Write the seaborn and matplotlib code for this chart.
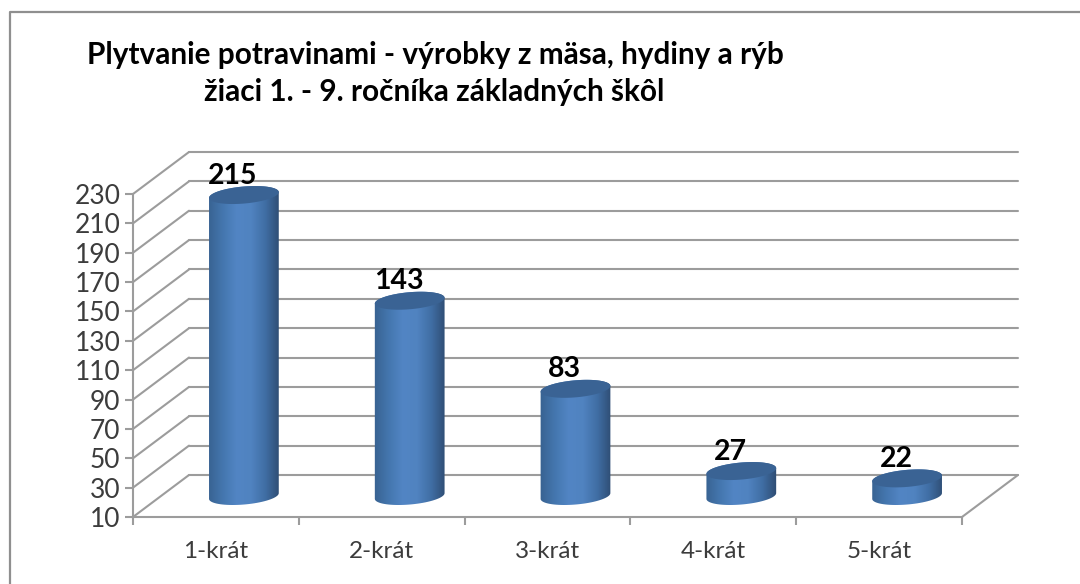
import numpy as np
import pandas as pd
import seaborn as sns
from matplotlib import pyplot as plt
from matplotlib.colors import LinearSegmentedColormap
from matplotlib.lines import Line2D
from matplotlib.patches import PathPatch, Polygon
from matplotlib.path import Path

categories = ["1-krát", "2-krát", "3-krát", "4-krát", "5-krát"]
counts = [215, 143, 83, 27, 22]
y_ticks = list(range(10, 231, 20))
title_lines = [
    "Plytvanie potravinami - výrobky z mäsa, hydiny a rýb",
    "žiaci 1. - 9. ročníka základných škôl",
]

W, H = 1080, 584
GREY = "#9c9c9c"

sns.set_theme(style="white")
plt.rcParams["font.family"] = ["Lato", "DejaVu Sans"]


def px_axes(fig, left, top, right, bottom):
    return fig.add_axes([left / W, 1 - bottom / H, (right - left) / W, (bottom - top) / H])


fig = plt.figure(figsize=(W / 100, H / 100), dpi=100, facecolor="white")
# outer frame only shows on the left and top in the crop
fig.add_artist(Line2D([10 / W, 10 / W, 1], [0, 1 - 12 / H, 1 - 12 / H], transform=fig.transFigure,
                      color="#8f8f8f", linewidth=1.6))

# front plane of the fake 3d box
ax = px_axes(fig, 133, 194, 962, 517)
ax.set_xlim(-0.5, 4.5)
ax.set_ylim(10, 230)
ax.patch.set_alpha(0)
sns.despine(ax=ax, top=True, right=True)
for side in ("left", "bottom"):
    ax.spines[side].set_color(GREY)
    ax.spines[side].set_linewidth(1.5)

ax.set_yticks(y_ticks)
ax.set_xticks(np.arange(-0.5, 5, 1))
ax.set_xticklabels([])
ax.set_xticks(range(5), categories, minor=True)
ax.tick_params(axis="both", which="major", length=6, width=1.5, color=GREY, left=True, bottom=True)
ax.tick_params(axis="y", labelsize=19, labelcolor="#3c3c3c", pad=3)
ax.tick_params(axis="x", which="minor", length=0, labelsize=17.5, labelcolor="#3c3c3c", pad=17)

# back wall, side wall and floor
sx = 1 / (829 / 5)
sy = 220 / 323
dx, dy = 56 * sx, 42 * sy
for v in y_ticks:
    ax.plot([-0.5, -0.5 + dx], [v, v + dy], color=GREY, lw=1.5, clip_on=False, zorder=1)
    ax.plot([-0.5 + dx, 4.5 + dx], [v + dy, v + dy], color=GREY, lw=1.5, clip_on=False, zorder=1)
ax.plot([4.5, 4.5 + dx], [10, 10 + dy], color=GREY, lw=1.5, clip_on=False, zorder=1)

# cylinders stand halfway into the box
ax_bars = px_axes(fig, 133 + 28, 194 - 21, 962 + 28, 517 - 21)
df = pd.DataFrame({"category": categories, "count": counts})
sns.barplot(data=df, x="category", y="count", color="#4a7ab8", width=0.42, ax=ax_bars)
ax_bars.set_xlim(-0.5, 4.5)
ax_bars.set_ylim(10, 230)
ax_bars.axis("off")

cmap = LinearSegmentedColormap.from_list(
    "cyl", ["#386291", "#4476ae", "#5285c4", "#5083c0", "#406ea4", "#2e4c72"]
)
theta = np.deg2rad(5)
a, b = 35, 8.5


def ellipse(cx, cy, t):
    x = a * np.cos(t) * np.cos(theta) - b * np.sin(t) * np.sin(theta)
    y = a * np.cos(t) * np.sin(theta) + b * np.sin(t) * np.cos(theta)
    return np.column_stack([cx + x * sx, cy + y * sy])


for bar, value in zip(ax_bars.patches, counts):
    cx = bar.get_x() + bar.get_width() / 2
    low = ellipse(cx, 10, np.linspace(np.pi, 2 * np.pi, 40))
    high = ellipse(cx, value, np.linspace(0, np.pi, 40))
    body = np.vstack([low, high, low[:1]])
    outline = PathPatch(Path(body), transform=ax_bars.transData, fc="none", ec="none")
    ax_bars.add_patch(outline)
    outline.set_clip_on(False)
    bar.set_visible(False)
    img = ax_bars.imshow(
        np.linspace(0, 1, 128)[None, :], cmap=cmap, aspect="auto", zorder=3,
        extent=(cx - 36 * sx, cx + 36 * sx, 0, value + 15),
    )
    img.set_clip_path(outline)
    img.set_clip_box(fig.bbox)
    top = Polygon(ellipse(cx, value, np.linspace(0, 2 * np.pi, 90)), closed=True,
                  fc="#3a6394", ec="none", zorder=4, clip_on=False)
    ax_bars.add_patch(top)
    ax_bars.annotate(str(value), (cx, value), xytext=(-11 * 0.72, 19.5 * 0.72),
                     textcoords="offset points", ha="center", va="center",
                     fontsize=20.5, fontweight="bold", color="black", zorder=5,
                     annotation_clip=False)
ax_bars.set_xlim(-0.5, 4.5)
ax_bars.set_ylim(10, 230)

fig.text(87 / W, 1 - 55 / H, title_lines[0], fontsize=21.4, fontweight="bold", color="black",
         ha="left", va="center")
fig.text(204 / W, 1 - 92 / H, title_lines[1], fontsize=21.4, fontweight="bold", color="black",
         ha="left", va="center")

fig.savefig("out.png", dpi=100)
